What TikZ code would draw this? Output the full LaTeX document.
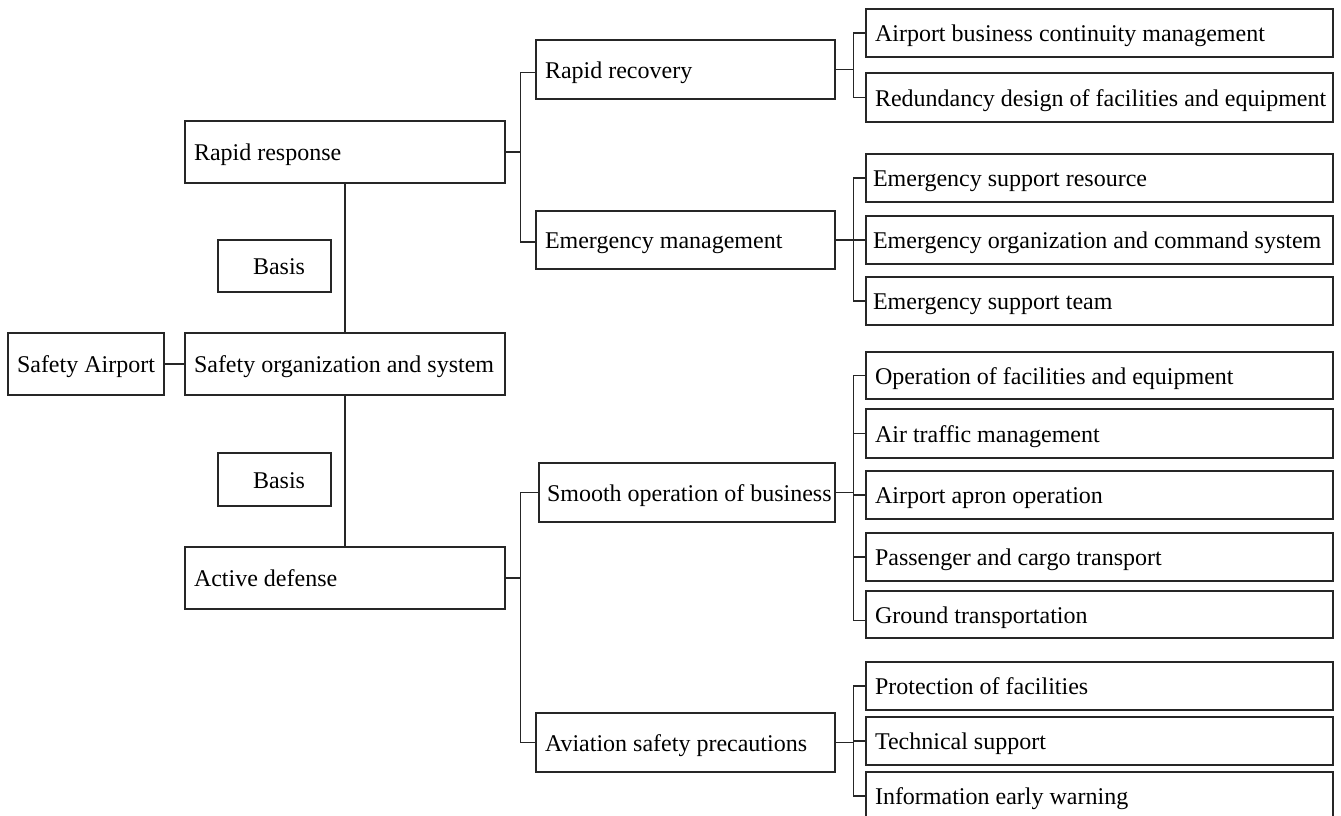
\documentclass[tikz,border=0pt]{standalone}
\usepackage{fontspec}
\setmainfont{Liberation Serif}
\tikzset{
  boxst/.style={draw=black!85, line width=1.3pt, rectangle, inner ysep=0pt,
    text height=17pt, text depth=0pt, font=\fontsize{24}{28}\selectfont, text=black},
  conn/.style={draw=black!85, line width=1.3pt}
}
% #1 pad, #2 name, #3 x1, #4 y1, #5 x2, #6 y2, #7 text
\newcommand{\bx}[7][9]{%
  \node[boxst, inner xsep=#1pt, minimum width={(#5-#3)*1pt}, minimum height={(#6-#4)*1pt}]
    (#2) at ({(#3+#5)/2},{(#4+#6)/2})
    {\makebox[\dimexpr #5pt-#3pt-#1pt-#1pt\relax][l]{#7}};}
\begin{document}
\begin{tikzpicture}[x=1pt,y=-1pt]
\clip (0,0) rectangle (1341,816);
\fill[white] (0,0) rectangle (1341,816);
% left column
\bx{SA}{8}{333}{164}{395}{Safety Airport}
\bx{SOS}{185}{333}{505}{395}{Safety organization and system}
\bx{RR}{185}{121}{505}{183}{Rapid response}
\bx{AD}{185}{547}{505}{609}{Active defense}
\bx[35]{B1}{218}{240}{331}{292}{Basis}
\bx[35]{B2}{218}{453}{331}{506}{Basis}
% middle column
\bx{RRec}{536}{40}{835}{99}{Rapid recovery}
\bx{EM}{536}{211}{835}{269}{Emergency management}
\bx[8]{SOB}{539}{463}{835}{522}{Smooth operation of business}
\bx{ASP}{536}{713}{835}{772}{Aviation safety precautions}
% right column
\bx{ABCM}{866}{9}{1333}{57}{Airport business continuity management}
\bx{RDFE}{866}{73}{1333}{122}{Redundancy design of facilities and equipment}
\bx[7]{ESR}{866}{154}{1333}{202}{Emergency support resource}
\bx[7]{EOCS}{866}{216}{1333}{264}{Emergency organization and command system}
\bx[7]{EST}{866}{277}{1333}{325}{Emergency support team}
\bx{OFE}{866}{352}{1333}{399}{Operation of facilities and equipment}
\bx{ATM}{866}{409}{1333}{458}{Air traffic management}
\bx{AAO}{866}{471}{1333}{519}{Airport apron operation}
\bx{PCT}{866}{533}{1333}{581}{Passenger and cargo transport}
\bx{GT}{866}{591}{1333}{638}{Ground transportation}
\bx{PF}{866}{662}{1333}{710}{Protection of facilities}
\bx{TS}{866}{717}{1333}{765}{Technical support}
\bx{IEW}{866}{772}{1333}{820}{Information early warning}
% connectors, left
\draw[conn] (SA.east) -- (SOS.west);
\draw[conn] (RR.south) -- (SOS.north);
\draw[conn] (SOS.south) -- (AD.north);
% rapid response branch
\draw[conn] (RR.east) -- ++(15,0) coordinate (bl1);
\draw[conn] (bl1) |- ([yshift=-3pt]RRec.west);
\draw[conn] (bl1) |- ([yshift=-2pt]EM.west);
% active defense branch
\draw[conn] (AD.east) -- ++(15,0) coordinate (bl2);
\draw[conn] (bl2) |- (SOB.west);
\draw[conn] (bl2) |- (ASP.west);
% rapid recovery children
\draw[conn] (RRec.east) -- ++(18,0) coordinate (br1);
\draw[conn] (br1) |- (ABCM.west);
\draw[conn] (br1) |- (RDFE.west);
% emergency management children
\draw[conn] (EM.east) -- ++(18,0) coordinate (br2);
\draw[conn] (br2) |- (ESR.west);
\draw[conn] (br2) |- (EOCS.west);
\draw[conn] (br2) |- (EST.west);
% smooth operation children
\draw[conn] (SOB.east) -- ++(18,0) coordinate (br3);
\draw[conn] (br3) |- (OFE.west);
\draw[conn] (br3) |- (ATM.west);
\draw[conn] (br3) |- (AAO.west);
\draw[conn] (br3) |- (PCT.west);
\draw[conn] (br3) |- ([yshift=-6pt]GT.west);
% aviation safety children
\draw[conn] (ASP.east) -- ++(18,0) coordinate (br4);
\draw[conn] (br4) |- (PF.west);
\draw[conn] (br4) |- (TS.west);
\draw[conn] (br4) |- (IEW.west);
\end{tikzpicture}
\end{document}
